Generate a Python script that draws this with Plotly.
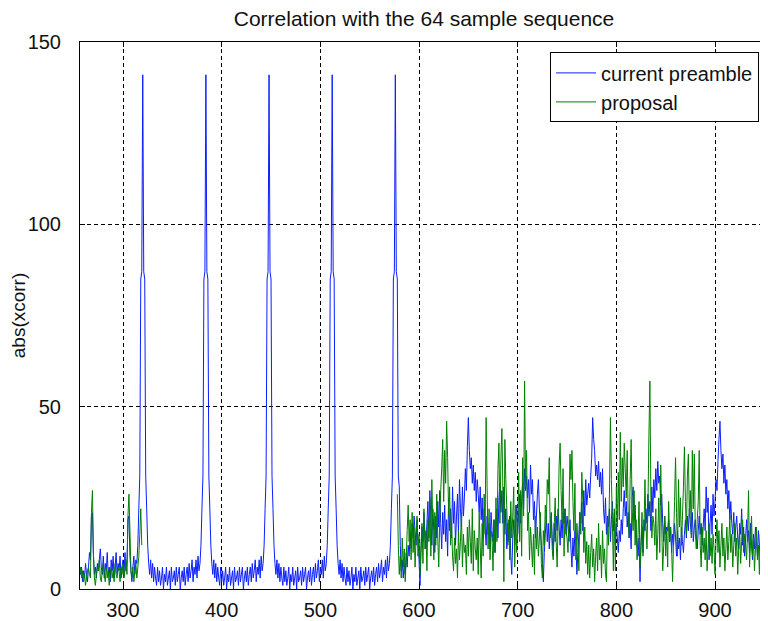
import plotly.graph_objects as go

# ---------------- data ----------------
# x = sample index
blue_start_x = 256
blue_start = [5, 4, 6, 2, 5, 3, 7, 4, 2, 6,
              10, 8, 20, 21, 9, 4, 6, 3, 7, 5,
              8, 11, 6, 4, 9, 3, 7, 5, 10, 4,
              6, 2, 8, 5, 9, 3, 6, 10, 4, 7,
              5, 9, 3, 6, 8, 4, 10, 5, 7, 19,
              20, 9, 5, 2, 6, 9, 4, 8]

# one 64-sample period of the current preamble correlation (peak at 7th value)
blue_period_x = 314
blue_period = [7, 12, 22, 31, 85, 87, 141, 87, 85, 31, 22, 12, 7,
               4, 8, 3, 7, 2, 6, 3, 1, 6,
               2, 5, 1, 3, 6, 0, 4, 2, 6, 1,
               3, 5, 0, 6, 2, 3, 5, 1, 6, 2,
               4, 6, 0, 3, 5, 2, 6, 1, 4, 6,
               2, 7, 3, 5, 8, 2, 6, 4, 8, 3,
               9, 5]
blue_period_repeats = 4

blue_last_peak_x = 570
blue_last_peak = [7, 12, 22, 31, 85, 87, 141, 87, 85, 31, 28, 12]

blue_tail_x = 582
blue_tail = [5, 8, 3, 7, 4, 10, 6, 12, 9, 15,
             11, 18, 14, 20, 16, 12, 19, 13, 8, 1,
             10, 17, 13, 21, 15, 11, 18, 24, 14, 27,
             19, 12, 22, 16, 10, 20, 14, 24, 17, 27,
             18, 11, 21, 15, 23, 13, 19, 9, 25, 16,
             22, 14, 28, 18, 24, 12, 20, 26, 15, 30,
             22, 17, 28, 20, 25, 33, 27, 39, 47, 38,
             33, 36, 29, 34, 27, 32, 24, 30, 26, 21,
             28, 19, 25, 14, 22, 17, 12, 20, 15, 18,
             11, 21, 16, 13, 19, 10, 17, 22, 14, 25,
             29, 21, 27, 18, 28, 15, 22, 11, 18, 13,
             20, 9, 4, 14, 19, 12, 17, 23, 15, 21,
             26, 18, 24, 29, 22, 33, 27, 31, 25, 30,
             21, 34, 26, 30, 19, 24, 14, 20, 26, 30,
             22, 17, 12, 8, 2, 10, 15, 20, 13, 18,
             11, 16, 21, 14, 9, 18, 13, 20, 16, 22,
             17, 12, 19, 14, 21, 18, 22, 15, 20, 17,
             13, 19, 11, 6, 14, 9, 16, 12, 4, 10,
             15, 21, 18, 24, 16, 27, 20, 30, 23, 26,
             29, 25, 31, 36, 47, 41, 38, 31, 34, 30,
             35, 28, 32, 26, 33, 22, 18, 25, 15, 20,
             17, 22, 13, 19, 24, 16, 21, 12, 18, 14,
             10, 16, 13, 19, 15, 22, 27, 20, 24, 17,
             21, 14, 18, 11, 25, 28, 19, 23, 15, 12,
             9, 14, 2, 12, 17, 10, 19, 16, 22, 18,
             26, 20, 24, 16, 28, 21, 30, 25, 33, 27,
             35, 29, 31, 23, 26, 18, 13, 20, 15, 17,
             16, 19, 13, 17, 10, 15, 12, 18, 14, 9,
             16, 11, 14, 8, 17, 13, 10, 15, 19, 14,
             20, 16, 22, 18, 15, 21, 13, 17, 19, 14,
             11, 16, 20, 15, 18, 12, 17, 22, 16, 28,
             21, 25, 8, 18, 23, 15, 26, 20, 24, 30,
             27, 35, 41, 46, 38, 33, 37, 29, 34, 26,
             30, 22, 27, 19, 24, 18, 15, 21, 13, 17,
             20, 14, 11, 18, 15, 22, 12, 17, 9, 14,
             19, 13, 16, 10, 18, 12, 8, 15, 11, 17,
             13, 9, 16, 12, 7, 14, 10, 15, 11, 8,
             13, 10, 12, 9]

green_start_x = 256
green_start = [4, 6, 3, 5, 2, 4, 1, 3, 5, 6,
               4, 3, 21, 27, 10, 3, 1, 4, 6, 5,
               8, 3, 2, 5, 7, 4, 2, 6, 3, 5,
               1, 4, 6, 3, 5, 2, 7, 4, 3, 6,
               5, 2, 6, 4, 7, 3, 5, 8, 4, 20,
               26, 16, 5, 3, 6, 2, 5, 7, 3, 6,
               9, 15, 22, 12]

green_tail_x = 578
green_tail = [26, 12, 4, 9, 3, 14, 6, 11, 2, 8,
              16, 23, 13, 19, 8, 21, 10, 17, 6, 14,
              20, 9, 15, 4, 12, 18, 7, 22, 11, 16,
              5, 19, 13, 25, 9, 30, 17, 8, 21, 12,
              26, 14, 6, 19, 27, 33, 41, 24, 38, 29,
              46, 36, 20, 28, 12, 18, 9, 5, 14, 7,
              11, 3, 16, 8, 13, 21, 6, 15, 10, 12,
              4, 17, 9, 19, 13, 7, 22, 5, 16, 11,
              8, 14, 4, 21, 12, 3, 18, 9, 26, 15,
              47, 28, 11, 22, 8, 16, 14, 5, 19, 10,
              25, 13, 33, 40, 18, 36, 44, 27, 2, 41,
              30, 22, 12, 19, 8, 24, 14, 20, 28, 6,
              23, 10, 16, 32, 13, 27, 9, 36, 20, 57,
              28, 38, 16, 21, 8, 17, 12, 6, 15, 4,
              20, 11, 17, 9, 14, 21, 7, 3, 16, 12,
              23, 18, 30, 26, 36, 14, 20, 11, 8, 17,
              25, 13, 6, 19, 34, 40, 27, 18, 33, 9,
              22, 16, 14, 10, 20, 37, 30, 38, 24, 16,
              29, 8, 18, 13, 5, 21, 15, 32, 24, 10,
              17, 7, 13, 4, 12, 3, 10, 15, 6, 11,
              2, 9, 14, 5, 18, 8, 12, 3, 16, 7,
              11, 4, 2, 19, 12, 26, 47, 30, 18, 5,
              22, 5, 28, 17, 32, 19, 43, 24, 36, 28,
              40, 33, 25, 38, 20, 14, 30, 41, 22, 16,
              27, 12, 19, 8, 15, 24, 6, 13, 21, 9,
              16, 30, 18, 11, 22, 42, 57, 25, 14, 20,
              18, 12, 22, 8, 15, 25, 10, 34, 17, 5,
              12, 20, 9, 16, 6, 24, 13, 17, 11, 2,
              14, 24, 36, 21, 9, 30, 17, 25, 12, 20,
              28, 39, 24, 15, 31, 37, 20, 27, 14, 38,
              22, 37, 16, 11, 19, 24, 38, 12, 6, 17,
              10, 14, 8, 16, 5, 12, 18, 9, 14, 7,
              15, 11, 4, 13, 19, 10, 16, 6, 12, 18,
              9, 14, 5, 11, 17, 8, 13, 20, 10, 15,
              6, 12, 18, 9, 14, 4, 11, 16, 7, 13,
              19, 10, 15, 12, 8, 16, 27, 6, 13, 20,
              9, 14, 5, 11, 17, 8, 12, 4, 15, 10,
              13, 7, 16, 9, 12, 5, 14, 8]

x_ticks = [300, 400, 500, 600, 700, 800, 900]
y_ticks = [0, 50, 100, 150]
title_text = "Correlation with the 64 sample sequence"
y_label = "abs(xcorr)"
names = ["current preamble", "proposal"]


# ---------------- assemble series ----------------
def seg(x0, vals):
    return list(range(x0, x0 + len(vals))), list(vals)

bx, by = [], []
for x0, vals in [(blue_start_x, blue_start),
                 (blue_period_x, blue_period * blue_period_repeats),
                 (blue_last_peak_x, blue_last_peak),
                 (blue_tail_x, blue_tail)]:
    xs, ys = seg(x0, vals)
    bx += xs
    by += ys

gx, gy = [], []
xs, ys = seg(green_start_x, green_start)
gx += xs; gy += ys
gx.append(None); gy.append(None)   # proposal not visible over the preamble peaks
xs, ys = seg(green_tail_x, green_tail)
gx += xs; gy += ys

FONT = "Liberation Sans, Arial, sans-serif"
TXT = "#111111"

fig = go.Figure()
fig.add_trace(go.Scatter(x=bx, y=by, mode="lines", name=names[0],
                         line=dict(color="#0a1eff", width=1, simplify=False)))
fig.add_trace(go.Scatter(x=gx, y=gy, mode="lines", name=names[1], connectgaps=False,
                         line=dict(color="#008000", width=1, simplify=False)))

axis_common = dict(showline=True, linecolor="black", linewidth=1, mirror="ticks",
                   ticks="inside", ticklen=5, tickcolor="black", automargin=False,
                   showgrid=True, gridcolor="black", gridwidth=1, griddash="4px,3px",
                   zeroline=False, tickfont=dict(family=FONT, size=20, color=TXT))

# the page body adds an 8px offset; the figure is sized so it fits the window exactly
fig.update_layout(
    width=760, height=613,
    margin=dict(l=72, r=0, t=34, b=32, autoexpand=False),
    paper_bgcolor="white", plot_bgcolor="white",
    title=dict(text=title_text, x=0.5, xref="paper", y=1 - 11 / 613, yref="container",
               xanchor="center", yanchor="middle",
               font=dict(family=FONT, size=21, color=TXT)),
    xaxis=dict(range=[256.4, 953.7], tickvals=x_ticks, ticklabelstandoff=3, **axis_common),
    yaxis=dict(range=[0, 150], tickvals=y_ticks, ticklabelstandoff=14,
               title=dict(text=y_label, standoff=8,
                          font=dict(family=FONT, size=19, color=TXT)),
               **axis_common),
    legend=dict(x=0.987, xanchor="right", y=0.981, yanchor="top",
                bgcolor="white", bordercolor="black", borderwidth=1,
                font=dict(family=FONT, size=20, color=TXT),
                itemwidth=40, tracegroupgap=0),
    showlegend=True,
)

fig.write_html("out.html")
